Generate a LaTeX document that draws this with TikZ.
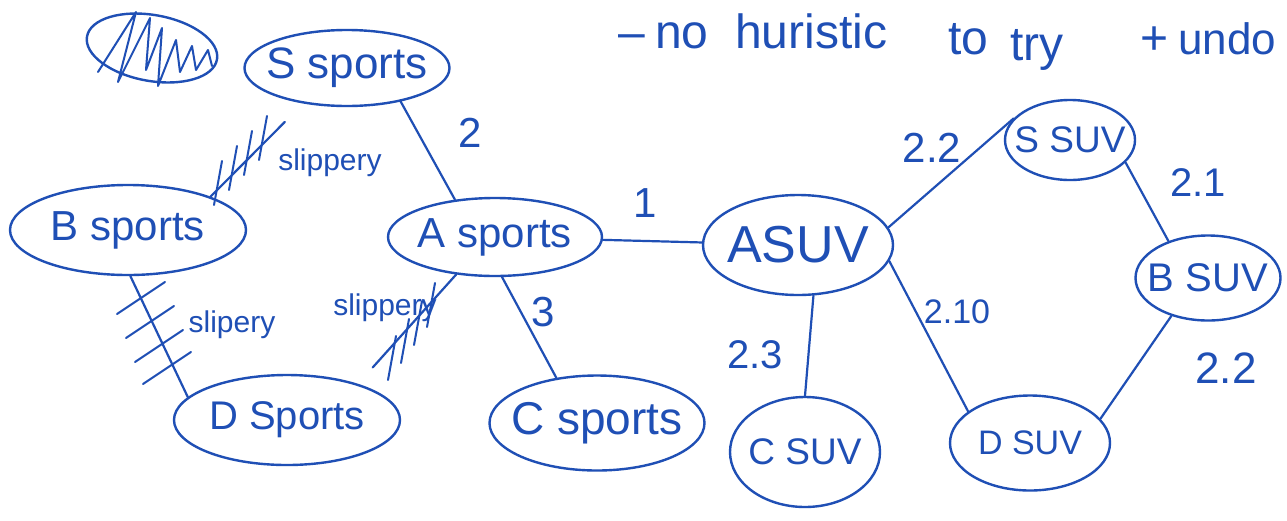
\documentclass[tikz,border=0pt]{standalone}
\usepackage{fontspec}
\setmainfont{Liberation Sans}
\usetikzlibrary{shapes.geometric,calc}
\definecolor{ink}{HTML}{1F4FB5}
\newcommand{\fs}[1]{\fontsize{#1}{#1}\selectfont}
\newcommand{\zb}[1]{\makebox[0pt]{#1}}
\begin{document}
\begin{tikzpicture}[x=1pt,y=-1pt,
  blob/.style={ellipse,draw=ink,line width=2.4pt,inner sep=0pt,text=ink,font=\fs{44}},
  link/.style={draw=ink,line width=2.2pt,line cap=round},
  hashmark/.style={draw=ink,line width=2pt,line cap=round},
  lbl/.style={text=ink,inner sep=0pt,font=\fs{42}},
  slip/.style={text=ink,inner sep=0pt,font=\fs{30}},
  note/.style={text=ink,anchor=base west,inner sep=0pt,font=\fs{48}}]
\useasboundingbox (0,0) rectangle (1287,520);
\clip (0,0) rectangle (1287,520);
\fill[white] (0,0) rectangle (1287,520);

% crossed-out blob
\node[blob,minimum width=132pt,minimum height=66pt,rotate=-10] (x) at (152,48) {};
\draw[hashmark,line join=round] (98,72) -- (136,12) -- (118,82) -- (150,18) -- (146,70) -- (162,28) -- (158,86) -- (176,40) -- (180,72) -- (192,46) -- (196,70) -- (208,50) -- (212,66);

% sports nodes
\node[blob,minimum width=205pt,minimum height=76pt] (ss) at (347,68) {\zb{S sports}};
\node[blob,minimum width=236pt,minimum height=90pt,font=\fs{42}] (bs) at (128,230) {\zb{B sports}};
\node[blob,minimum width=214pt,minimum height=78pt,font=\fs{42}] (as) at (495,237) {\zb{A sports}};
\node[blob,minimum width=226pt,minimum height=90pt,font=\fs{40}] (ds) at (287,420) {\zb{D Sports}};
\node[blob,minimum width=215pt,minimum height=95pt,font=\fs{46}] (cs) at (597,423) {\zb{C sports}};

% SUV nodes
\node[blob,minimum width=190pt,minimum height=100pt,font=\fs{52}] (av) at (798,245) {\zb{ASUV}};
\node[blob,minimum width=130pt,minimum height=80pt,font=\fs{37}] (sv) at (1070,140) {\zb{S SUV}};
\node[blob,minimum width=145pt,minimum height=85pt,font=\fs{40}] (bv) at (1208,278) {\zb{B SUV}};
\node[blob,minimum width=150pt,minimum height=110pt,font=\fs{37}] (cv) at (805,452) {\zb{C SUV}};
\node[blob,minimum width=160pt,minimum height=95pt,font=\fs{34}] (dv) at (1030,443) {\zb{D SUV}};

% connectors
\draw[link] (ss.-32) -- (as.137);
\draw[link,shorten >=26pt] (bs.22) -- (ss.219);
\draw[link] (bs.-87) -- (ds.167);
\draw[link,shorten >=22pt] (as.-136) -- (ds.27);
\draw[link] (as.-80) -- (cs.132);
\draw[link] (as) -- (av);
\draw[link] (av.11) -- (sv.159);
\draw[link] (sv.-22) -- (bv.137);
\draw[link] (av.-73) -- (cv.90);
\draw[link] (av.-10) -- (dv.153);
\draw[link] (bv.-134) -- (dv.19);

% hash marks (blocked edges)
\foreach \px/\py in {218/185,233/170,248/155,263/140}
  \draw[hashmark] (\px-4,\py+20) -- (\px+4,\py-24);
\foreach \px/\py in {141/298,150/322,159/346,167/368}
  \draw[hashmark] (\px-24,\py+16) -- (\px+24,\py-16);
\foreach \px/\py in {392/358,405/341,418/323,431/305}
  \draw[hashmark] (\px-4,\py+22) -- (\px+4,\py-22);

% labels
\node[slip] (l1) at (330,163) {slippery};
\node[slip] (l2) at (232,325) {slipery};
\node[slip] (l3) at (385,308) {slippery};
\node[lbl] (w1) at (470,133) {2};
\node[lbl] (w2) at (543,312) {3};
\node[lbl] (w3) at (645,203) {1};
\node[lbl] (w4) at (932,148) {2.2};
\node[lbl,font=\fs{40}] (w5) at (1198,183) {2.1};
\node[lbl,font=\fs{40}] (w6) at (755,355) {2.3};
\node[lbl,font=\fs{34}] (w7) at (957,312) {2.10};
\node[lbl,font=\fs{44}] (w8) at (1226,368) {2.2};

% note at the top
\node[note] (n1) at (618,48) {–};
\node[note] (n2) at (655,48) {no};
\node[note] (n3) at (735,48) {huristic};
\node[note] (n4) at (948,54) {to};
\node[note] (n5) at (1010,60) {try};
\node[note] (n6) at (1140,54) {+};
\node[note,font=\fs{44}] (n7) at (1178,54) {undo};
\end{tikzpicture}
\end{document}
